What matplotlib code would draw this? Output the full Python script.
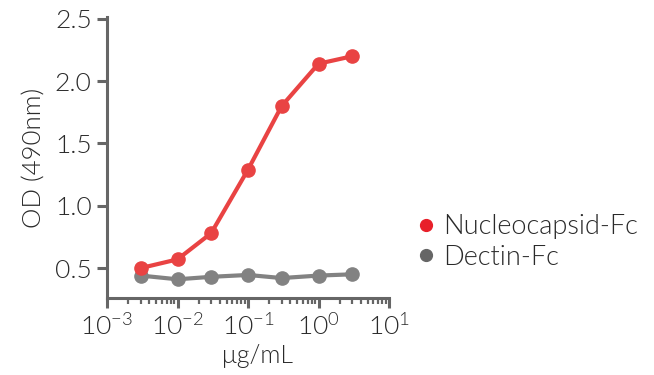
import matplotlib
matplotlib.use('Agg')
import matplotlib.pyplot as plt
from matplotlib.lines import Line2D
from matplotlib.ticker import LogLocator, NullFormatter

plt.rcParams['font.family'] = ['Lato', 'DejaVu Sans']
plt.rcParams['font.weight'] = 300
plt.rcParams['axes.labelweight'] = 300
plt.rcParams['mathtext.fontset'] = 'custom'
plt.rcParams['mathtext.rm'] = 'Lato:weight=300'
plt.rcParams['mathtext.it'] = 'Lato:weight=300'

# concentration (ug/mL)
conc = [0.003, 0.01, 0.03, 0.1, 0.3, 1, 3]
nucleocapsid = [0.50, 0.57, 0.78, 1.29, 1.80, 2.14, 2.20]
dectin = [0.44, 0.41, 0.43, 0.445, 0.42, 0.44, 0.45]
series_names = ['Nucleocapsid-Fc', 'Dectin-Fc']

red = '#e94343'
gray = '#828282'
axis_col = '#666666'
text_col = '#2a2a2a'

fig = plt.figure(figsize=(6.54, 3.75), dpi=100)
ax = fig.add_axes([107/654, 1 - 298/375, (389-107)/654, (298-17)/375])

ax.plot(conc, nucleocapsid, '-o', color=red, lw=3, ms=9.5, zorder=3)
ax.plot(conc, dectin, '-o', color=gray, lw=3, ms=9.5, zorder=2)

ax.set_xscale('log')
ax.set_xlim(1e-3, 1e1)
ax.set_ylim(0.26, 2.515)
ax.set_yticks([0.5, 1.0, 1.5, 2.0, 2.5])
ax.set_yticklabels(['0.5', '1.0', '1.5', '2.0', '2.5'])
ax.xaxis.set_major_locator(LogLocator(base=10, numticks=10))
ax.xaxis.set_minor_locator(LogLocator(base=10, subs=range(2, 10), numticks=20))
ax.xaxis.set_minor_formatter(NullFormatter())

for s in ['top', 'right']:
    ax.spines[s].set_visible(False)
for s in ['left', 'bottom']:
    ax.spines[s].set_color(axis_col)
    ax.spines[s].set_linewidth(2.2)

ax.tick_params(axis='both', which='major', direction='out', length=7, width=2.2,
               color=axis_col, labelsize=19, labelcolor=text_col, pad=4)
ax.tick_params(axis='x', which='minor', direction='out', length=4.5, width=1.6,
               color=axis_col)

ax.set_ylabel('OD (490nm)', fontsize=18.5, color=text_col, labelpad=6)
ax.set_xlabel('μg/mL', fontsize=18, color=text_col)
ax.xaxis.set_label_coords(0.535, -0.165)

handles = [Line2D([], [], ls='none', marker='o', ms=8.5, color='#e8202a'),
           Line2D([], [], ls='none', marker='o', ms=8.5, color='#666666')]
fig.legend(handles, series_names, loc='center left', bbox_to_anchor=(388/654, 1 - 242/375),
           frameon=False, fontsize=19.5, labelcolor=text_col, handletextpad=0.15,
           labelspacing=0.2, handlelength=1.0)

fig.savefig('out.png', dpi=100)
